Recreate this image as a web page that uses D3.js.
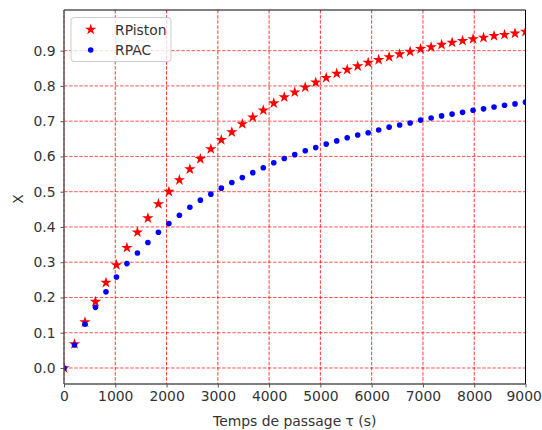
<!DOCTYPE html>
<html><head><meta charset="utf-8">
<script src="https://cdn.jsdelivr.net/npm/d3@7"></script>
<style>
html,body{margin:0;padding:0;background:#fff;}
svg{display:block;font-family:"DejaVu Sans",sans-serif;}
</style></head>
<body>
<svg id="chart" width="542" height="430"></svg>
<script>
const tau = [0, 204.5, 409.1, 613.6, 818.2, 1022.7, 1227.3, 1431.8, 1636.4, 1840.9, 2045.5, 2250, 2454.5, 2659.1, 2863.6, 3068.2, 3272.7, 3477.3, 3681.8, 3886.4, 4090.9, 4295.5, 4500, 4704.5, 4909.1, 5113.6, 5318.2, 5522.7, 5727.3, 5931.8, 6136.4, 6340.9, 6545.5, 6750, 6954.5, 7159.1, 7363.6, 7568.2, 7772.7, 7977.3, 8181.8, 8386.4, 8590.9, 8795.5, 9000];
const rpiston = [0, 0.068, 0.130, 0.188, 0.242, 0.292, 0.341, 0.385, 0.425, 0.465, 0.500, 0.533, 0.564, 0.593, 0.621, 0.647, 0.669, 0.692, 0.711, 0.731, 0.751, 0.768, 0.782, 0.796, 0.810, 0.823, 0.835, 0.846, 0.856, 0.866, 0.874, 0.882, 0.890, 0.897, 0.905, 0.910, 0.917, 0.923, 0.928, 0.933, 0.937, 0.942, 0.945, 0.949, 0.954];
const rpac = [0, 0.065, 0.124, 0.172, 0.216, 0.258, 0.296, 0.326, 0.356, 0.385, 0.410, 0.433, 0.456, 0.476, 0.493, 0.510, 0.526, 0.540, 0.554, 0.568, 0.582, 0.594, 0.605, 0.616, 0.625, 0.635, 0.644, 0.653, 0.661, 0.667, 0.675, 0.683, 0.689, 0.695, 0.703, 0.709, 0.715, 0.720, 0.725, 0.731, 0.735, 0.740, 0.745, 0.749, 0.754];
const xTicks = [0, 1000, 2000, 3000, 4000, 5000, 6000, 7000, 8000, 9000];
const yTicks = [0.0, 0.1, 0.2, 0.3, 0.4, 0.5, 0.6, 0.7, 0.8, 0.9];
const seriesNames = ["RPiston", "RPAC"];

const L = 64, R = 525.5, T = 10, B = 384;
const FS = "13.9px";
const svg = d3.select("#chart");
const x = d3.scaleLinear().domain([0, 9000]).range([L, R]);
const y = d3.scaleLinear().domain([-0.0454, 1.0153]).range([B, T]);

svg.append("defs").append("clipPath").attr("id","clip")
  .append("rect").attr("x",L).attr("y",T).attr("width",R-L).attr("height",B-T);

// grid
const grid = svg.append("g");
grid.selectAll(".gx").data(xTicks).join("line")
  .attr("x1",d=>x(d)).attr("x2",d=>x(d)).attr("y1",T).attr("y2",B)
  .attr("stroke","#ff0000").attr("stroke-width",0.9).attr("stroke-dasharray","3.5,1.6").attr("opacity",0.85);
grid.selectAll(".gy").data(yTicks).join("line")
  .attr("y1",d=>y(d)).attr("y2",d=>y(d)).attr("x1",L).attr("x2",R)
  .attr("stroke","#ff0000").attr("stroke-width",0.9).attr("stroke-dasharray","3.5,1.6").attr("opacity",0.75);

// data
const plot = svg.append("g").attr("clip-path","url(#clip)");
const star = d3.symbol().type(d3.symbolStar).size(40);
plot.selectAll(".st").data(tau.map((t,i)=>[t,rpiston[i]])).join("path")
  .attr("d", star).attr("transform",d=>`translate(${x(d[0])},${y(d[1])})`)
  .attr("fill","#ff0000");
plot.selectAll(".dt").data(tau.map((t,i)=>[t,rpac[i]])).join("circle")
  .attr("cx",d=>x(d[0])).attr("cy",d=>y(d[1])).attr("r",2.8)
  .attr("fill","#0000ff");

// spines
svg.append("line").attr("x1",L).attr("x2",R).attr("y1",T).attr("y2",T).attr("stroke","#000").attr("stroke-width",1);
svg.append("line").attr("x1",R).attr("x2",R).attr("y1",T).attr("y2",B).attr("stroke","#000").attr("stroke-width",1);

// axes
const xAxis = svg.append("g").attr("transform",`translate(0,${B})`)
  .call(d3.axisBottom(x).tickValues(xTicks).tickFormat(d3.format("d")).tickSize(3.5).tickPadding(4));
const yAxis = svg.append("g").attr("transform",`translate(${L},0)`)
  .call(d3.axisLeft(y).tickValues(yTicks).tickFormat(d3.format(".1f")).tickSize(3.5).tickPadding(5));
[xAxis,yAxis].forEach(a=>{
  a.select(".domain").attr("stroke","#555").attr("stroke-width",1.4);
  a.selectAll(".tick line").attr("stroke","#555").attr("stroke-width",1);
  a.selectAll(".tick text").attr("fill","#333").style("font-size",FS).style("font-family","DejaVu Sans");
});
xAxis.select(".domain").attr("d",`M${L},0H${R}`);
yAxis.select(".domain").attr("d",`M0,${B}V${T}`);
// keep the last x tick label inside the window
xAxis.selectAll(".tick text").filter(d=>d===xTicks[xTicks.length-1]).attr("dx","-1.8");

// labels
svg.append("text").attr("x",(L+R)/2).attr("y",426).attr("text-anchor","middle")
  .attr("fill","#333").style("font-size",FS).text("Temps de passage τ (s)");
svg.append("text").attr("transform",`translate(23,199) rotate(-90)`).attr("text-anchor","middle")
  .attr("fill","#333").style("font-size",FS).text("X");

// legend
const lg = svg.append("g");
lg.append("rect").attr("x",71).attr("y",17.5).attr("width",100).attr("height",44).attr("rx",3)
  .attr("fill","#fff").attr("fill-opacity",0.8).attr("stroke","#ccc").attr("stroke-width",1);
lg.append("path").attr("d",star).attr("transform","translate(90.7,29.5)").attr("fill","#ff0000");
lg.append("circle").attr("cx",90.7).attr("cy",50).attr("r",2.8).attr("fill","#0000ff");
lg.selectAll(".lt").data(seriesNames).join("text")
  .attr("x",115).attr("y",(d,i)=>34.5+i*20.5).attr("fill","#333").style("font-size",FS).text(d=>d);
</script>
</body></html>
